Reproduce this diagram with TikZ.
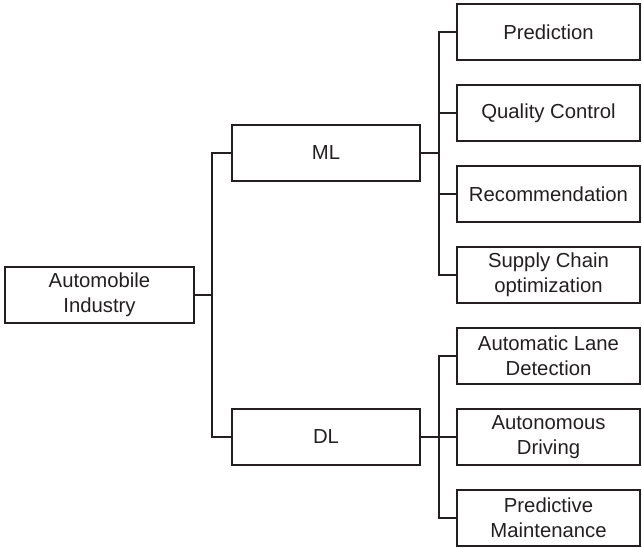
\documentclass[tikz,border=0pt]{standalone}
\usepackage{fontspec}
\setmainfont{Liberation Sans}
\definecolor{ink}{HTML}{231F20}
\begin{document}
\begin{tikzpicture}[x=1pt, y=-1pt,
  box/.style={draw=ink, line width=2pt, rectangle, align=center, text=ink,
    inner sep=0pt, minimum height=56pt,
    font=\fontsize{20.3}{25}\selectfont},
  leftbox/.style={box, minimum width=189pt},
  midbox/.style={box, minimum width=188pt},
  leafbox/.style={box, minimum width=183pt},
  wire/.style={draw=ink, line width=2pt}]
\useasboundingbox (0,0) rectangle (642,548);

% root and the two branches
\node[leftbox] (auto) at (99.5,295) {Automobile\\Industry};
\node[midbox] (ml) at (326,153) {ML};
\node[midbox] (dl) at (326,437) {DL};

% leaves
\node[leafbox] (pred) at (548.5,32)  {Prediction};
\node[leafbox] (qc)   at (548.5,113) {Quality Control};
\node[leafbox] (rec)  at (548.5,194) {Recommendation};
\node[leafbox] (sc)   at (548.5,275) {Supply Chain\\optimization};
\node[leafbox] (al)   at (548.5,356) {Automatic Lane\\Detection};
\node[leafbox] (ad)   at (548.5,437) {Autonomous\\Driving};
\node[leafbox] (pm)   at (548.5,518) {Predictive\\Maintenance};

% bus lines
\coordinate (busA) at (212,295);
\coordinate (busM) at (438.5,0);

\draw[wire] (auto.east) -- (busA);
\draw[wire] (ml.west) -- (ml.west -| busA) -- (dl.west -| busA) -- (dl.west);

\draw[wire] (ml.east) -- (ml.east -| busM);
\draw[wire] (pred.west) -- (pred.west -| busM) -- (sc.west -| busM) -- (sc.west);
\draw[wire] (qc.west) -- (qc.west -| busM);
\draw[wire] (rec.west) -- (rec.west -| busM);

\draw[wire] (al.west) -- (al.west -| busM) -- (pm.west -| busM) -- (pm.west);
\draw[wire] (dl.east) -- (ad.west);
\end{tikzpicture}
\end{document}
